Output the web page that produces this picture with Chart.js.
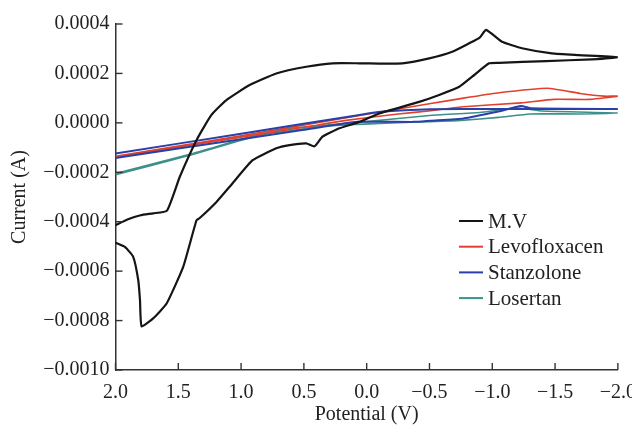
<!DOCTYPE html>
<html>
<head>
<meta charset="utf-8">
<script src="https://cdn.jsdelivr.net/npm/chart.js@4.4.1/dist/chart.umd.min.js"></script>
<style>
  html, body { margin: 0; padding: 0; background: #fff; overflow: hidden; }
  #wrap { width: 647px; height: 425px; }
</style>
</head>
<body>
<div id="wrap"><canvas id="cv"></canvas></div>
<script>
// potential (V) and current (A), one loop per sample
const mvPotential = [2.0, 1.9, 1.8, 1.7, 1.59, 1.488, 1.355, 1.236, 1.117, 0.932, 0.72, 0.481, 0.272, 0.058, -0.10, -0.284, -0.498, -0.681, -0.816, -0.90, -0.951, -1.078, -1.237, -1.475, -1.689, -2.0,
  -1.793, -1.428, -1.054, -0.975, -0.84, -0.737, -0.577, -0.418, -0.10, 0.058, 0.217, 0.352, 0.415, 0.481, 0.614, 0.72, 0.908, 1.067, 1.196, 1.329, 1.355, 1.461, 1.593, 1.70, 1.792, 1.805, 1.819, 1.859, 1.925, 2.0];
const mvCurrent = [-0.000414, -0.000390, -0.000374, -0.000366, -0.000355, -0.000218, -0.000070, 0.000032, 0.000092, 0.000153, 0.000200, 0.000227, 0.000241, 0.000241, 0.000240, 0.000241, 0.000261, 0.000288, 0.000322, 0.000345, 0.000376, 0.000328, 0.000302, 0.000281, 0.000274, 0.000265,
  0.000257, 0.000250, 0.000243, 0.000241, 0.000187, 0.000146, 0.000113, 0.000085, 0.000038, 0.000004, -0.000022, -0.000056, -0.000095, -0.000083, -0.000090, -0.000103, -0.000151, -0.000244, -0.000320, -0.000385, -0.000394, -0.000583, -0.000731, -0.000791, -0.000823, -0.000717, -0.000636, -0.000542, -0.000502, -0.000485];

const levoPotential = [2.0, 1.0, 0.058, -0.51, -0.77, -1.04, -1.44, -1.70, -1.89, -2.0,
  -1.78, -1.49, -1.23, -0.77, -0.51, -0.25, 0.15, 0.5, 1.0, 2.0];
const levoCurrent = [-0.000135, -0.000052, 0.000030, 0.000078, 0.000100, 0.000121, 0.000140, 0.000119, 0.000108, 0.000108,
  0.000095, 0.000095, 0.000081, 0.000065, 0.000049, 0.000036, 0.000011, -0.000018, -0.000058, -0.000140];

const stanPotential = [2.0, 1.0, 0.058, -0.11, -0.51, -1.0, -2.0,
  -1.31, -1.23, -1.04, -0.77, -0.51, -0.375, 0.074, 0.5, 1.0, 2.0];
const stanCurrent = [-0.000124, -0.000044, 0.000032, 0.000045, 0.000055, 0.000056, 0.000056,
  0.000059, 0.000068, 0.000045, 0.000018, 0.000009, 0.000004, 0.000004, -0.000028, -0.000066, -0.000142];

const losPotential = [2.0, 1.4, 0.85, 0.6, 0.3, 0.0, -0.5, -0.9, -1.2, -1.4, -2.0,
  -1.7, -1.3, -1.05, -0.75, -0.5, -0.2, 0.3, 0.85, 1.4, 2.0];
const losCurrent = [-0.000205, -0.000126, -0.000045, -0.000022, -0.000008, 0.000005, 0.000030, 0.000042, 0.000060, 0.000048, 0.000040,
  0.000036, 0.000036, 0.000022, 0.000010, 0.000005, 0.000000, -0.000012, -0.000050, -0.000130, -0.000210];

const xTicks = [2.0, 1.5, 1.0, 0.5, 0.0, -0.5, -1.0, -1.5, -2.0];
const yTicks = [0.0004, 0.0002, 0.0, -0.0002, -0.0004, -0.0006, -0.0008, -0.0010];

function pts(xs, ys) {
  return xs.map((v, i) => ({ x: v, y: ys[i] }));
}
function minus(s) {
  return s.replace('-', '\u2212');
}

const serif = 'Liberation Serif, Times New Roman, serif';

// inward tick marks on both axes
const inwardTicks = {
  id: 'inwardTicks',
  afterDraw(chart) {
    const ctx = chart.ctx;
    const xs = chart.scales.x, ys = chart.scales.y;
    const area = chart.chartArea;
    ctx.save();
    ctx.strokeStyle = '#333';
    ctx.lineWidth = 1.4;
    xTicks.forEach(t => {
      const px = xs.getPixelForValue(t);
      ctx.beginPath();
      ctx.moveTo(px, area.bottom);
      ctx.lineTo(px, area.bottom - 7);
      ctx.stroke();
    });
    yTicks.forEach(t => {
      const py = ys.getPixelForValue(t);
      ctx.beginPath();
      ctx.moveTo(area.left, py);
      ctx.lineTo(area.left + 7, py);
      ctx.stroke();
    });
    ctx.restore();
  }
};

// legend inside the plot, lower right
const insideLegend = {
  id: 'insideLegend',
  afterDraw(chart) {
    const ctx = chart.ctx;
    const x0 = 459, y0 = 221, step = 25.7;
    ctx.save();
    ctx.font = '21px ' + serif;
    ctx.textBaseline = 'middle';
    chart.data.datasets.forEach((ds, i) => {
      const y = y0 + i * step;
      ctx.strokeStyle = ds.borderColor;
      ctx.lineWidth = 2;
      ctx.beginPath();
      ctx.moveTo(x0, y);
      ctx.lineTo(x0 + 24, y);
      ctx.stroke();
      ctx.fillStyle = '#222';
      ctx.fillText(ds.label, x0 + 29, y + 1);
    });
    ctx.restore();
  }
};

new Chart(document.getElementById('cv'), {
  type: 'scatter',
  data: {
    datasets: [
      { label: 'M.V', data: pts(mvPotential, mvCurrent), borderColor: '#151515', borderWidth: 2.2, order: 0 },
      { label: 'Levofloxacen', data: pts(levoPotential, levoCurrent), borderColor: '#e0402c', borderWidth: 1.6, order: 2 },
      { label: 'Stanzolone', data: pts(stanPotential, stanCurrent), borderColor: '#2a40a8', borderWidth: 2, order: 1 },
      { label: 'Losertan', data: pts(losPotential, losCurrent), borderColor: '#3d8f8a', borderWidth: 1.6, order: 3 }
    ].map(d => Object.assign(d, { showLine: true, pointRadius: 0, tension: 0.15, fill: false }))
  },
  options: {
    responsive: true,
    maintainAspectRatio: false,
    animation: false,
    layout: { padding: { left: 0, right: 0, top: 24, bottom: 0 } },
    plugins: { legend: { display: false }, tooltip: { enabled: false } },
    scales: {
      x: {
        type: 'linear',
        reverse: true,
        min: -2,
        max: 2,
        afterBuildTicks: s => { s.ticks = xTicks.map(v => ({ value: v })); },
        ticks: {
          padding: 11,
          color: '#222',
          font: { family: serif, size: 20 },
          callback: v => minus(v.toFixed(1))
        },
        grid: { display: false, drawTicks: false },
        border: { display: true, color: '#333', width: 1.5 },
        title: { display: true, text: 'Potential (V)', color: '#222', font: { family: serif, size: 20 }, padding: { top: 0, bottom: -2 } },
        afterFit: s => { s.height = 55; }
      },
      y: {
        type: 'linear',
        min: -0.001,
        max: 0.0004,
        afterBuildTicks: s => { s.ticks = yTicks.map(v => ({ value: v })); },
        ticks: {
          padding: 6,
          color: '#222',
          font: { family: serif, size: 20 },
          callback: v => minus(Math.abs(v) < 1e-12 ? '0.0000' : v.toFixed(4))
        },
        grid: { display: false, drawTicks: false },
        border: { display: true, color: '#333', width: 1.5 },
        title: { display: true, text: 'Current (A)', color: '#222', font: { family: serif, size: 20 }, padding: { top: 8, bottom: 0 } },
        afterFit: s => { s.width = 115.5; }
      }
    }
  },
  plugins: [inwardTicks, insideLegend]
});
</script>
</body>
</html>
